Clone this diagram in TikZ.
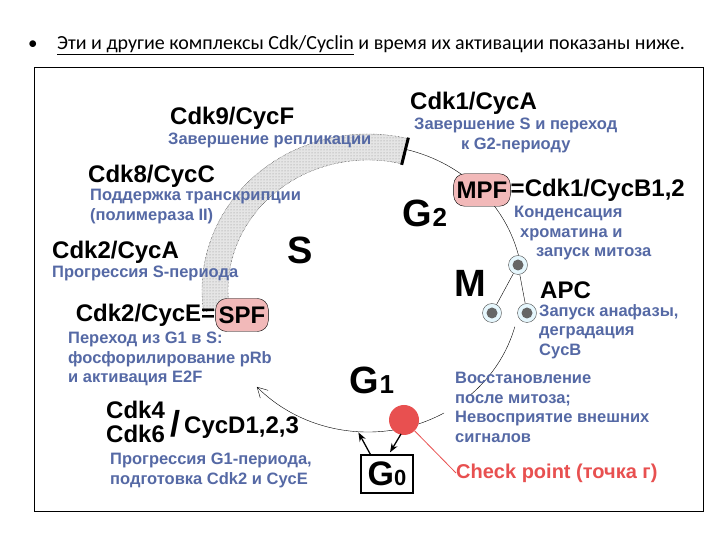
\documentclass[tikz,border=0pt]{standalone}
\usepackage{fontspec}
\setmainfont{Liberation Sans}
\newfontfamily\titlefont{Carlito}
\usetikzlibrary{patterns,arrows.meta,calc}
\definecolor{bl}{RGB}{85,105,165}
\definecolor{pinkf}{RGB}{242,185,185}
\definecolor{redd}{RGB}{232,80,80}
\begin{document}
\begin{tikzpicture}[x=1pt,y=1pt,
  blk/.style={anchor=west,inner sep=0pt,font=\bfseries\fontsize{24}{25}\selectfont},
  blu/.style={anchor=west,inner sep=0pt,text=bl,align=left,font=\bfseries\fontsize{16.5}{19.5}\selectfont},
  big/.style={inner sep=0pt,font=\bfseries\fontsize{38}{40}\selectfont},
  cell/.style={circle,draw=black!70,fill=cyan!10,minimum size=19pt,inner sep=0pt,path picture={\fill[black!60] (path picture bounding box.center) circle (5.5pt);}},
  blob/.style={fill=pinkf,draw=black,rounded corners=11pt,inner xsep=3pt,inner ysep=8pt}]
\useasboundingbox (0,0) rectangle (720,540);
\fill[white] (0,0) rectangle (720,540);
% title
\node[anchor=west,inner sep=0pt,font=\titlefont\fontsize{19}{20}\selectfont] (bul) at (28,495) {•};
\node[anchor=west,inner sep=0pt,font=\titlefont\fontsize{20}{21}\selectfont] (title) at (57,495) {\underline{Эти и другие комплексы Cdk/Cyclin} и время их активации показаны ниже.};
% frame
\draw[black,line width=1pt] (34,28) rectangle (703,472);
\coordinate (C) at (368,250);
% band
\draw[densely dotted,fill=black!10]
  (C) ++(76:166 and 156) arc[start angle=76,end angle=188,x radius=166,y radius=156]
  -- ($(C)+(188:140 and 130)$) arc[start angle=188,end angle=76,x radius=140,y radius=130] -- cycle;
\fill[pattern=dots,pattern color=black!45]
  (C) ++(76:166 and 156) arc[start angle=76,end angle=188,x radius=166,y radius=156]
  -- ($(C)+(188:140 and 130)$) arc[start angle=188,end angle=76,x radius=140,y radius=130] -- cycle;
\draw[line width=3pt] ($(C)+(76:139 and 129)$) -- ($(C)+(76:167 and 157)$);
% thin arcs
\draw[thin] (C) ++(76:155 and 145) arc[start angle=76,end angle=10,x radius=155,y radius=145];
\draw[thin] (C) ++(-15:152 and 142) arc[start angle=-15,end angle=-48,x radius=152,y radius=142];
\draw[thin,-{Straight Barb[length=10pt,width=11pt]}] (C) ++(-60:152 and 142) arc[start angle=-60,end angle=-137,x radius=152,y radius=142];
% cells
\node[cell] (c1) at (518,275) {};
\node[cell] (c2) at (492,227) {};
\node[cell] (c3) at (527,227) {};
\draw (c1) -- (c2); \draw (c1) -- (c3);
% blobs
\node[blob,font=\bfseries\fontsize{24}{25}\selectfont] (mpf) at (482,350) {MPF};
\node[anchor=west,inner sep=0pt,font=\bfseries\fontsize{24}{25}\selectfont] (mpft) at (mpf.east) {=Cdk1/CycB1,2};
\node[blob,font=\bfseries\fontsize{24}{25}\selectfont] (spf) at (242,225) {SPF};
% red dot
\node[circle,fill=redd,minimum size=30pt,inner sep=0pt] (dot) at (404,120) {};
% G0
\node[draw,line width=1.2pt,minimum width=52pt,minimum height=38pt,inner sep=0pt,font=\bfseries\fontsize{34}{34}\selectfont] (g0) at (387,66) {G\fontsize{22}{22}\selectfont 0};
\coordinate (a1) at ($(g0.north west)+(10,0)$);
\coordinate (a2) at ($(g0.north west)+(-2,22)$);
\draw[line width=1.3pt,-{Stealth[length=9pt]}] (a1) -- (a2);
\draw[line width=1.3pt,-{Stealth[length=9pt]}] ($(dot)+(-3,-14)$) -- ($(g0.north)+(3,2)$);
\node[anchor=west,inner sep=0pt,text=redd,font=\bfseries\fontsize{20}{21}\selectfont] (cp) at (456,67) {Check point (точка г)};
\draw[redd,thick] (dot) -- (cp.west);
% phases
\node[big] (S) at (300,290) {S};
\node[big] (G2) at (425,327) {G\fontsize{26}{26}\selectfont 2};
\node[big] (M) at (470,257) {M};
\node[big] (G1) at (372,160) {G\fontsize{26}{26}\selectfont 1};
% labels
\node[blk] (k9) at (170,422) {Cdk9/CycF};
\node[blu] (k9t) at (168,400) {Завершение репликации};
\node[blk] (k1) at (410,437) {Cdk1/CycA};
\node[blu,align=center,anchor=north west] (k1t) at (414,422) {Завершение S и переход\\к G2-периоду};
\node[blk] (k8) at (88,364) {Cdk8/CycC};
\node[blu,anchor=north west] (k8t) at (90,351) {Поддержка транскрипции\\(полимераза II)};
\node[blk] (k2a) at (52,288) {Cdk2/CycA};
\node[blu] (k2at) at (52,267) {Прогрессия S-периода};
\node[blk,anchor=east] (k2e) at (spf.west) {Cdk2/CycE=};
\node[blu,anchor=north west] (k2et) at (68,208) {Переход из G1 в S:\\фосфорилирование pRb\\и активация E2F};
\node[blk] (k4) at (106,130) {Cdk4};
\node[blk] (k6) at (106,106) {Cdk6};
\node[anchor=west,inner sep=0pt,font=\bfseries\fontsize{36}{36}\selectfont] (sl) at (170,116) {/};
\node[blk] (cd) at (184,112) {CycD1,2,3};
\node[blu,anchor=north west] (k4t) at (110,87) {Прогрессия G1-периода,\\подготовка Cdk2 и CycE};
\node[blu,anchor=north west] (mt) at (514,334) {\hspace*{0pt}Конденсация\\\hspace*{6pt}хроматина и\\\hspace*{22pt}запуск митоза};
\node[blk] (apc) at (540,250) {APC};
\node[blu,anchor=north west] (apct) at (539,236) {Запуск анафазы,\\деградация\\CycB};
\node[blu,anchor=north west] (rt) at (455,168) {Восстановление\\после митоза;\\Невосприятие внешних\\сигналов};
\end{tikzpicture}
\end{document}
